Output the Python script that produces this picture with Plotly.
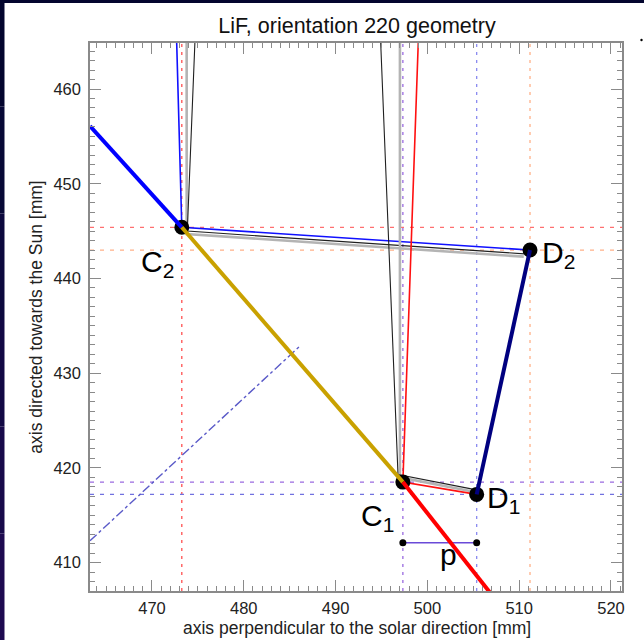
import plotly.graph_objects as go

# ---------------- data (mm) ----------------
x_range = [463.25, 521.2]
y_range = [407.0, 464.86]

# crystal / detector key points
pt_names = ["C1", "C2", "D1", "D2"]
pt_x = [497.33, 473.25, 505.37, 511.18]
pt_y = [418.5, 445.4, 417.2, 443.0]

# thick Rowland-like path segments
blue_arc_x = [463.25, 473.25]
blue_arc_y = [456.1, 445.4]
gold_arc_x = [473.25, 497.33]
gold_arc_y = [445.4, 418.5]
red_arc_x = [497.33, 507.5]
red_arc_y = [418.5, 406.0]

# detector line D1 -> D2
det_x = [505.37, 511.18]
det_y = [417.2, 443.0]

# rays hitting C2 and reflected to D2
ray_c2_blue_x = [472.69, 473.25, 511.18]
ray_c2_blue_y = [465.0, 445.4, 443.0]
ray_c2_black_x = [474.68, 473.85, 510.6]
ray_c2_black_y = [465.0, 445.0, 442.6]
ray_c2_grey_x = [473.78, 473.78, 510.5]
ray_c2_grey_y = [465.0, 444.7, 442.3]

# rays hitting C1 and reflected to D1
ray_c1_red_x = [499.01, 497.33, 505.37]
ray_c1_red_y = [465.0, 418.5, 417.2]
ray_c1_black_x = [494.91, 496.8, 505.2]
ray_c1_black_y = [465.0, 419.3, 417.7]
ray_c1_grey_x = [497.01, 497.01, 505.2]
ray_c1_grey_y = [465.0, 419.0, 417.45]

# dash-dot direction line
dashdot_x = [463.25, 486.12]
dashdot_y = [412.3, 432.87]

# pitch bracket p
p_x = [497.33, 505.37]
p_y = [412.1, 412.1]

# guide line colours (per point C1, C2, D1, D2)
guide_colors_v = ["#9a6ae0", "#ff5050", "#8a8af0", "#ffb088"]
guide_colors_h = ["#9a6ae0", "#ff7070", "#7070e0", "#ffb088"]

# label positions (mm) for C1, C2, D1, D2
lab_text = ["C<sub>1</sub>", "C<sub>2</sub>", "D<sub>1</sub>", "D<sub>2</sub>"]
lab_x = [496.58, 472.6, 506.3, 512.3]
lab_y = [414.72, 441.6, 416.62, 442.48]
lab_anchor = ["right", "right", "left", "left"]

x_ticks = [470, 480, 490, 500, 510, 520]
y_ticks = [410, 420, 430, 440, 450, 460]

x_title = "axis perpendicular to the solar direction [mm]"
y_title = "axis directed towards the Sun [mm]"
main_title = "LiF, orientation 220 geometry"

FONT = "Liberation Sans, Arial, sans-serif"

# ---------------- figure ----------------
fig = go.Figure()

def line(x, y, color, width, dash="solid"):
    fig.add_trace(go.Scatter(x=x, y=y, mode="lines",
                             line=dict(color=color, width=width, dash=dash),
                             hoverinfo="skip", showlegend=False))

# guide lines
for i in range(4):
    line([pt_x[i], pt_x[i]], y_range, guide_colors_v[i], 1.3, "3px,5px")
    line(x_range, [pt_y[i], pt_y[i]], guide_colors_h[i], 1.3, "4px,6px")

# dash-dot line
line(dashdot_x, dashdot_y, "#5a5ac8", 1.4, "dashdot")

# thin rays
line(ray_c2_grey_x, ray_c2_grey_y, "#b4b4b4", 2.6)
line(ray_c2_black_x, ray_c2_black_y, "#202020", 1.1)
line(ray_c2_blue_x, ray_c2_blue_y, "#1010ff", 1.6)
line(ray_c1_grey_x, ray_c1_grey_y, "#b4b4b4", 2.6)
line(ray_c1_black_x, ray_c1_black_y, "#202020", 1.1)
line(ray_c1_red_x, ray_c1_red_y, "#ff1010", 1.6)

# pitch bracket
line(p_x, p_y, "#6a4ad8", 1.4)
fig.add_trace(go.Scatter(x=p_x, y=p_y, mode="markers",
                         marker=dict(color="black", size=7),
                         hoverinfo="skip", showlegend=False))

# key point markers
fig.add_trace(go.Scatter(x=pt_x, y=pt_y, mode="markers",
                         marker=dict(color="black", size=15),
                         hoverinfo="skip", showlegend=False))

# thick path
line(blue_arc_x, blue_arc_y, "#0000ff", 4)
line(gold_arc_x, gold_arc_y, "#c9a100", 4)
line(red_arc_x, red_arc_y, "#ff0000", 4)
line(det_x, det_y, "#000080", 4)

# point labels
for t, x, y, a in zip(lab_text, lab_x, lab_y, lab_anchor):
    fig.add_annotation(x=x, y=y, text=t, showarrow=False, xanchor=a,
                       yanchor="middle",
                       font=dict(size=30, color="black", family=FONT))
fig.add_annotation(x=502.25, y=410.81, text="p", showarrow=False,
                   xanchor="center", yanchor="middle",
                   font=dict(size=30, color="black", family=FONT))

# slide border (navy) outside the plot
W, H = 644, 640
L, R, T, B = 90, 22, 43, 49
pw, ph = W - L - R, H - T - B
def px2paper(px, py):
    return (px - L) / pw, (H - B - py) / ph

# x axis title as annotation (precise placement)
tx, ty = px2paper(357, 628)
fig.add_annotation(x=tx, y=ty, xref="paper", yref="paper", text=x_title,
                   showarrow=False, xanchor="center", yanchor="middle",
                   font=dict(size=17.5, color="#222222", family=FONT))

border_cols = ["#03052e", "#070836", "#0c083d", "#120944", "#180a4a", "#1e0a50"]
n = len(border_cols)
for i, c in enumerate(border_cols):
    y0p = i * H / n
    y1p = (i + 1) * H / n
    xa, ya = px2paper(0, y1p)
    xb, yb = px2paper(4.5, y0p)
    fig.add_shape(type="rect", xref="paper", yref="paper",
                  x0=xa, x1=xb, y0=ya, y1=yb,
                  fillcolor=c, line=dict(width=0), layer="above")
xa, ya = px2paper(0, 3)
xb, yb = px2paper(W, 0)
fig.add_shape(type="rect", xref="paper", yref="paper",
              x0=xa, x1=xb, y0=ya, y1=yb,
              fillcolor="#03052e", line=dict(width=0), layer="above")
# small dot top-right
cx, cy = px2paper(641.5, 40)
fig.add_shape(type="circle", xref="paper", yref="paper",
              x0=cx - 1.2 / pw, x1=cx + 1.2 / pw, y0=cy - 1.2 / ph, y1=cy + 1.2 / ph,
              fillcolor="black", line=dict(width=0))

axis_common = dict(
    showgrid=False, zeroline=False, automargin=False,
    showline=True, linecolor="#8a8a8a", linewidth=1.5,
    mirror="allticks", ticks="inside", ticklen=11, tickwidth=1.3,
    tickcolor="#8a8a8a", dtick=10,
    tickfont=dict(size=16.5, color="#222222", family=FONT),
    minor=dict(dtick=1, ticks="inside", ticklen=5, tickwidth=1,
               tickcolor="#8a8a8a", showgrid=False),
)

fig.update_layout(
    width=W, height=H,
    margin=dict(l=L, r=R, t=T, b=B, pad=0, autoexpand=False),
    paper_bgcolor="white", plot_bgcolor="white",
    title=dict(text=main_title, x=(L + pw / 2 + 1) / W,
               xanchor="center", y=1 - 25 / H, yanchor="middle",
               font=dict(size=21.5, color="#111111", family=FONT)),
    xaxis=dict(range=x_range, tickvals=x_ticks, ticklabelstandoff=1,
               **axis_common),
    yaxis=dict(range=y_range, tickvals=y_ticks, ticklabelstandoff=4,
               title=dict(text=y_title, standoff=6,
                          font=dict(size=17.5, color="#222222", family=FONT)),
               **axis_common),
    showlegend=False,
)

fig.write_html("out.html")
